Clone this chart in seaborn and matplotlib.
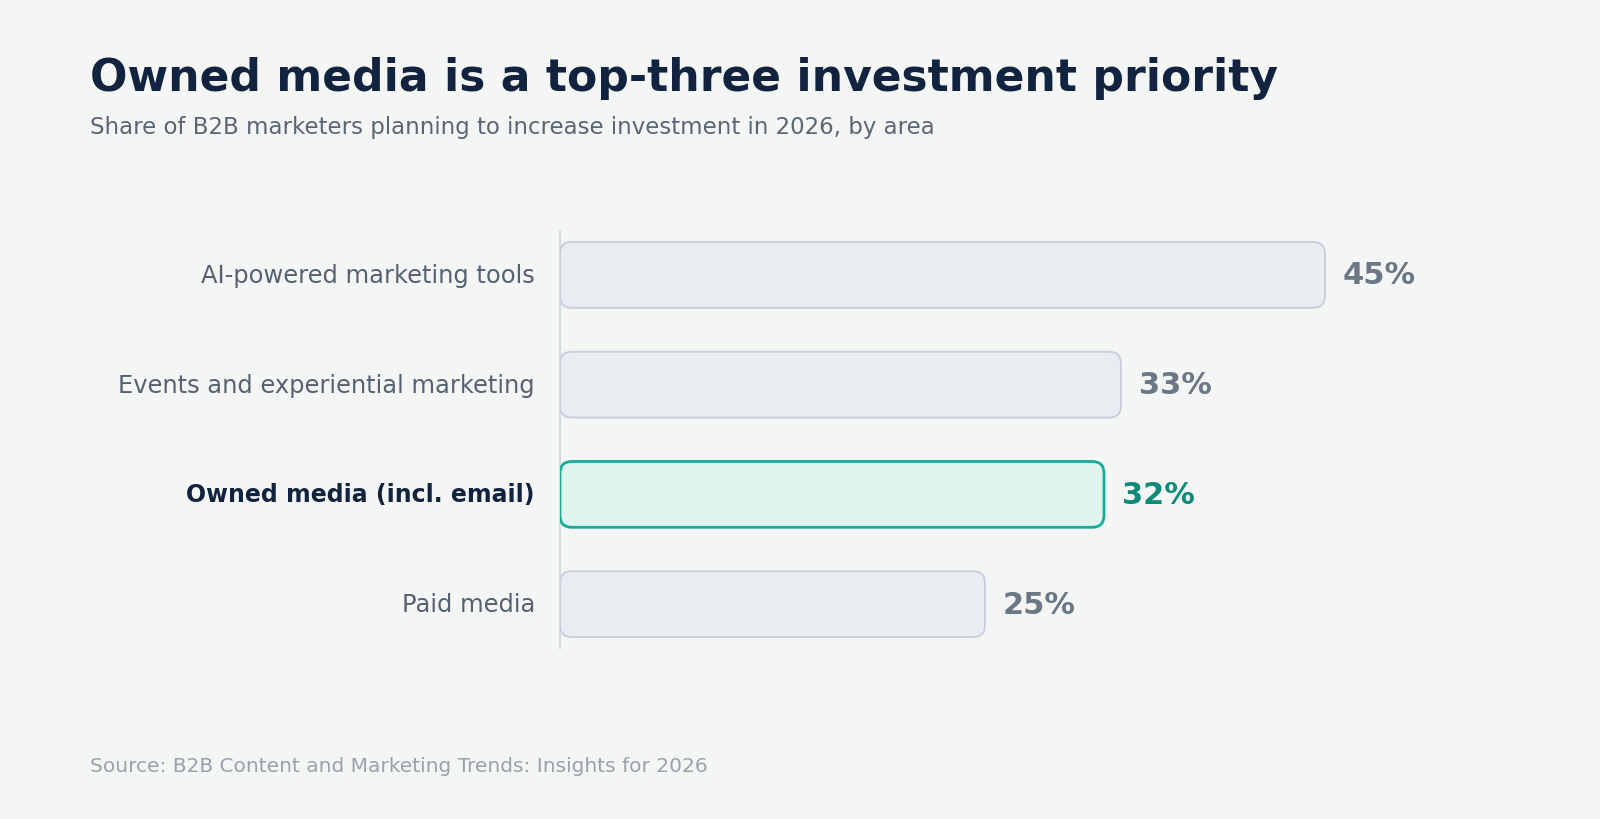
import matplotlib
matplotlib.use("Agg")
import matplotlib.pyplot as plt
from matplotlib.patches import FancyBboxPatch
import seaborn as sns
import pandas as pd

categories = ["AI-powered marketing tools", "Events and experiential marketing",
              "Owned media (incl. email)", "Paid media"]
values = [45, 33, 32, 25]
highlight = "Owned media (incl. email)"

title = "Owned media is a top-three investment priority"
subtitle = "Share of B2B marketers planning to increase investment in 2026, by area"
source = "Source: B2B Content and Marketing Trends: Insights for 2026"

BG = "#f4f6f6"
sns.set_theme(style="white")
plt.rcParams["font.family"] = ["DejaVu Sans"]

df = pd.DataFrame({"area": categories, "share": values})

fig = plt.figure(figsize=(16, 8.2), dpi=100, facecolor=BG)
ax = fig.add_axes([0.35, 0.2085, 0.5525, 0.5086], facecolor=BG)

sns.barplot(data=df, x="share", y="area", order=categories, ax=ax,
            width=0.6, color="#e9edf2")

ax.set_xlim(0, 52)
ax.set_ylim(3.4, -0.4)

# pixel scale for rounded corners
x_px = ax.get_position().width * 1600 / 52
y_px = ax.get_position().height * 820 / 3.8
aspect = x_px / y_px
r_px = 12

for patch, cat, val in zip(list(ax.patches), categories, values):
    x, y = patch.get_x(), patch.get_y()
    w, h = patch.get_width(), patch.get_height()
    hl = cat == highlight
    fc = "#e0f5f0" if hl else "#e9edf2"
    ec = "#14ae96" if hl else "#c8d0dc"
    lw = 2.0 if hl else 1.4
    box = FancyBboxPatch((x, y), w, h,
                         boxstyle=f"round,pad=0,rounding_size={r_px / x_px}",
                         mutation_aspect=aspect,
                         fc=fc, ec=ec, lw=lw, zorder=3)
    patch.set_visible(False)
    ax.add_patch(box)
    ax.annotate(f"{val}%", xy=(x + w, y + h / 2), xytext=(18, 0),
                textcoords="offset pixels", va="center", ha="left",
                fontsize=22, fontweight="bold",
                color="#0e8a78" if hl else "#6b7785", zorder=4)

ax.set_xlabel("")
ax.set_ylabel("")
ax.set_xticks([])
ax.tick_params(axis="y", length=0, pad=18)
for lbl in ax.get_yticklabels():
    lbl.set_verticalalignment("center")
    if lbl.get_text() == highlight:
        lbl.set_fontweight("bold")
        lbl.set_color("#12233f")
        lbl.set_fontsize(17)
    else:
        lbl.set_color("#556170")
        lbl.set_fontsize(17.4)

for s in ["top", "right", "bottom"]:
    ax.spines[s].set_visible(False)
ax.spines["left"].set_color("#d5dae1")
ax.spines["left"].set_linewidth(1.5)

fig.text(90 / 1600, 1 - 91 / 820, title, fontsize=31.7, fontweight="bold",
         color="#12233f", ha="left", va="baseline")
fig.text(90 / 1600, 1 - 134 / 820, subtitle, fontsize=16.5,
         color="#5b6675", ha="left", va="baseline")
fig.text(90 / 1600, 1 - 772 / 820, source, fontsize=14.5,
         color="#9aa1aa", ha="left", va="baseline")

fig.savefig("out.png", dpi=100, facecolor=BG)
